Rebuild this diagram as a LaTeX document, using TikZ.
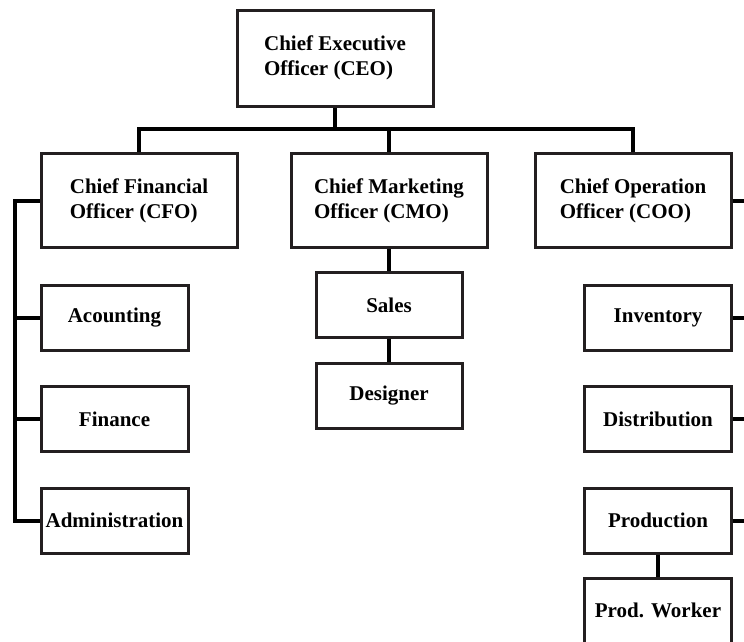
\documentclass[tikz,border=0pt]{standalone}
\usepackage{fontspec}
\setmainfont{Liberation Serif}
\definecolor{boxc}{HTML}{231F20}
\begin{document}
\begin{tikzpicture}[x=1pt,y=-1pt,
  box/.style={draw=boxc,line width=3pt,inner sep=0pt,align=left,fill=white,
    font=\bfseries\fontsize{21}{25}\selectfont,text=black},
  big/.style={box,minimum width=196pt,minimum height=94pt},
  small/.style={box,minimum width=147pt,minimum height=65pt},
  link/.style={line width=4pt,black,line join=miter}]
\useasboundingbox (0,0) rectangle (744,641);
\clip (0,0) rectangle (744,641);
\coordinate (bus) at (335,129);
\coordinate (lrail) at (15,0);
\coordinate (rrail) at (750,0);
% nodes
\node[big,minimum height=96pt] (ceo) at (335,58) {Chief Executive\\Officer (CEO)};
\node[big] (cfo) at (139,200.5) {Chief Financial\\Officer (CFO)};
\node[big] (cmo) at (389,200.5) {Chief Marketing\\Officer (CMO)};
\node[big] (coo) at (633,200.5) {Chief Operation\\Officer (COO)};
\node[small] (acc) at (114.5,317.5) {Acounting};
\node[small] (fin) at (114.5,419) {Finance};
\node[small] (adm) at (114.5,520.5) {Administration};
\node[small,minimum width=146pt] (sal) at (389,305) {Sales};
\node[small,minimum width=146pt] (des) at (389,396) {Designer};
\node[small] (inv) at (658,317.5) {Inventory};
\node[small] (dis) at (658,419) {Distribution};
\node[small] (pro) at (658,520.5) {Production};
\node[small] (wrk) at (658,610.5) {Prod. Worker};
% connectors
\begin{scope}[on background layer/.style={}]
\end{scope}
\draw[link] (ceo.south) -- (ceo.south |- bus);
\draw[link] (cfo.north) -- (cfo.north |- bus) -- (coo.north |- bus) -- (coo.north);
\draw[link] (cmo.north) -- (cmo.north |- bus);
\draw[link] (cfo.west) -- (cfo.west -| lrail) -- (adm.west -| lrail) -- (adm.west);
\draw[link] (acc.west) -- (acc.west -| lrail);
\draw[link] (fin.west) -- (fin.west -| lrail);
\draw[link] (cmo.south) -- (sal.north);
\draw[link] (sal.south) -- (des.north);
\draw[link] (coo.east) -- (coo.east -| rrail) -- (pro.east -| rrail) -- (pro.east);
\draw[link] (inv.east) -- (inv.east -| rrail);
\draw[link] (dis.east) -- (dis.east -| rrail);
\draw[link] (pro.south) -- (wrk.north);
\end{tikzpicture}
\end{document}
